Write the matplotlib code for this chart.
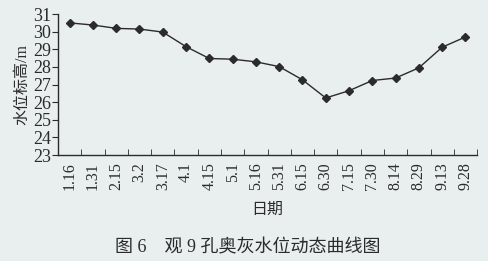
import matplotlib
matplotlib.use("Agg")
import matplotlib.pyplot as plt

plt.rcParams['font.family'] = ['Liberation Serif', 'Noto Sans CJK SC']

dates = ["1.16", "1.31", "2.15", "3.2", "3.17", "4.1", "4.15", "5.1", "5.16",
         "5.31", "6.15", "6.30", "7.15", "7.30", "8.14", "8.29", "9.13", "9.28"]
level = [30.50, 30.38, 30.19, 30.15, 29.98, 29.15, 28.48, 28.44, 28.29,
         28.02, 27.27, 26.24, 26.65, 27.23, 27.37, 27.95, 29.12, 29.70]
yticks = [23, 24, 25, 26, 27, 28, 29, 30, 31]

bg = "#e9eeee"
ink = "#2b2b2b"

fig = plt.figure(figsize=(4.89, 2.61), dpi=100, facecolor=bg)
ax = fig.add_axes([0.1186, 0.406, 0.857, 0.540], facecolor=bg)

x = list(range(len(dates)))
ax.plot(x, level, color=ink, lw=1.0, marker="D", ms=4.5, mfc=ink, mec=ink)

ax.set_xlim(-0.5, len(dates) - 0.5)
ax.set_ylim(23, 31)
ax.set_yticks(yticks)
ax.set_yticklabels([str(v) for v in yticks], fontsize=13, color=ink)

# category labels at centres, tick marks on the boundaries
ax.set_xticks(x)
ax.set_xticklabels(dates, rotation=90, fontsize=11.5, color=ink)
ax.tick_params(axis="x", which="major", length=0, pad=5)
ax.set_xticks([i + 0.5 for i in x], minor=True)
ax.tick_params(axis="x", which="minor", direction="in", length=4, color=ink)
ax.tick_params(axis="y", direction="out", length=4, color=ink, pad=1)

for s in ["top", "right"]:
    ax.spines[s].set_visible(False)
for s in ["left", "bottom"]:
    ax.spines[s].set_color(ink)
    ax.spines[s].set_linewidth(1.0)

ax.set_ylabel("水位标高/m", fontsize=11.5, color=ink, labelpad=2)
fig.text(0.547, 0.195, "日期", ha="center", va="center", fontsize=11.5, color=ink)
fig.text(0.507, 0.050, "图 6    观 9 孔奥灰水位动态曲线图", ha="center", va="center",
         fontsize=13, color=ink)

fig.savefig("out.png", dpi=100, facecolor=bg)
